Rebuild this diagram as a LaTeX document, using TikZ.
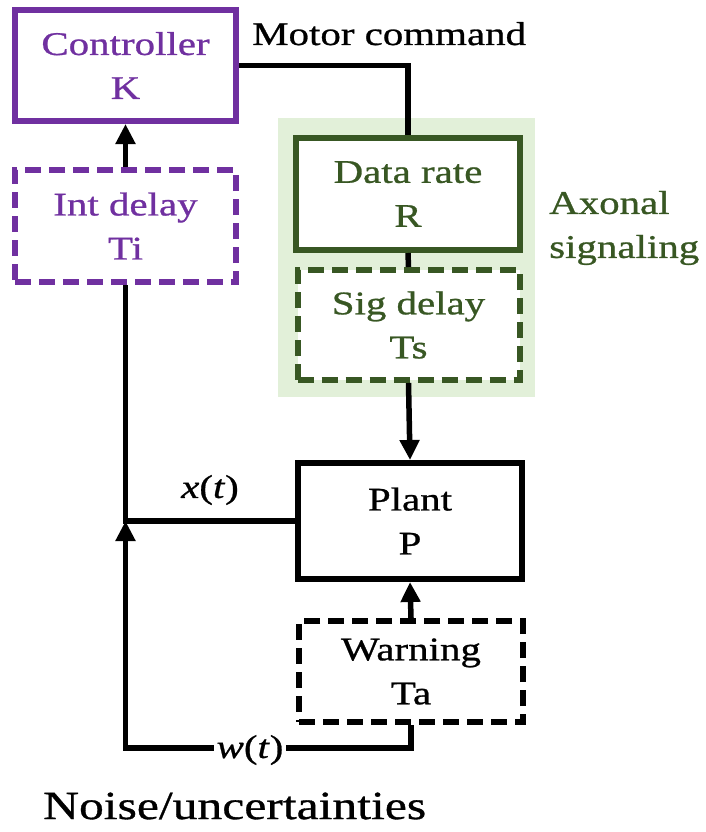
\documentclass[tikz,border=0pt]{standalone}
\usepackage{fontspec}
\setmainfont[FakeStretch=1.24,FakeBold=0.8]{Liberation Serif}
\usetikzlibrary{arrows.meta}
\definecolor{kpurple}{HTML}{7030A0}
\definecolor{dgreen}{HTML}{385723}
\definecolor{lgreen}{HTML}{E2F0D9}
\tikzset{
  blk/.style={draw, fill=white, line width=6pt, rectangle, align=center, inner sep=0pt,
    font=\fontsize{33}{44}\selectfont},
  dsh/.style={blk, dash pattern=on 16pt off 8pt},
  conn/.style={line width=5.5pt},
  arr/.style={conn, -{Triangle[length=20pt,width=19pt]}},
  lbl/.style={inner sep=2pt, font=\fontsize{33}{44}\selectfont}
}
\begin{document}
\begin{tikzpicture}[x=1pt,y=-1pt]
\useasboundingbox (0,0) rectangle (705,832);
% green background
\fill[lgreen] (278,118) rectangle (535,397);
% boxes
\node[blk, draw=kpurple, text=kpurple, minimum width=221pt, minimum height=111pt] (K) at (125.5,65.5) {Controller\\K};
\node[dsh, draw=kpurple, text=kpurple, minimum width=221pt, minimum height=112pt] (Ti) at (125.5,226) {Int delay\\Ti};
\node[blk, draw=dgreen, text=dgreen, minimum width=224pt, minimum height=112pt] (R) at (408,194) {Data rate\\R};
\node[dsh, draw=dgreen, text=dgreen, minimum width=222pt, minimum height=110pt] (Ts) at (408.5,325) {Sig delay\\Ts};
\node[blk, minimum width=224pt, minimum height=116pt] (P) at (410,521) {Plant\\P};
\node[dsh, minimum width=224pt, minimum height=101pt] (Ta) at (411,671.5) {Warning\\Ta};
% labels
\node[lbl, anchor=base west] (mc) at (250,45) {Motor command};
\node[lbl, text=dgreen, align=left, anchor=west] (ax) at (547,228) {Axonal\\signaling};
\node[lbl, anchor=west, font=\fontsize{40}{48}\selectfont] (noise) at (41,806) {Noise/uncertainties};
% connectors
\coordinate (J) at (Ti.south |- P.west);
\coordinate (wc) at (Ti.south |- 0,748);
\draw[conn] (K.east) -| (R.north);
\draw[conn] (R.south) -- (Ts.north);
\draw[arr] (Ts.south) -- (P.north);
\draw[arr] (Ti.north) -- (K.south);
\draw[conn] (P.west) -| (Ti.south);
\draw[arr] (Ta.north) -- (P.south);
\draw[arr] (Ta.south) |- (wc) -- (J);
\node[lbl, fill=white, inner xsep=3pt] (w) at (250,750) {\textit{w}(\textit{t})};
\node[lbl] (x) at (210,490) {\textit{x}(\textit{t})};
\end{tikzpicture}
\end{document}
